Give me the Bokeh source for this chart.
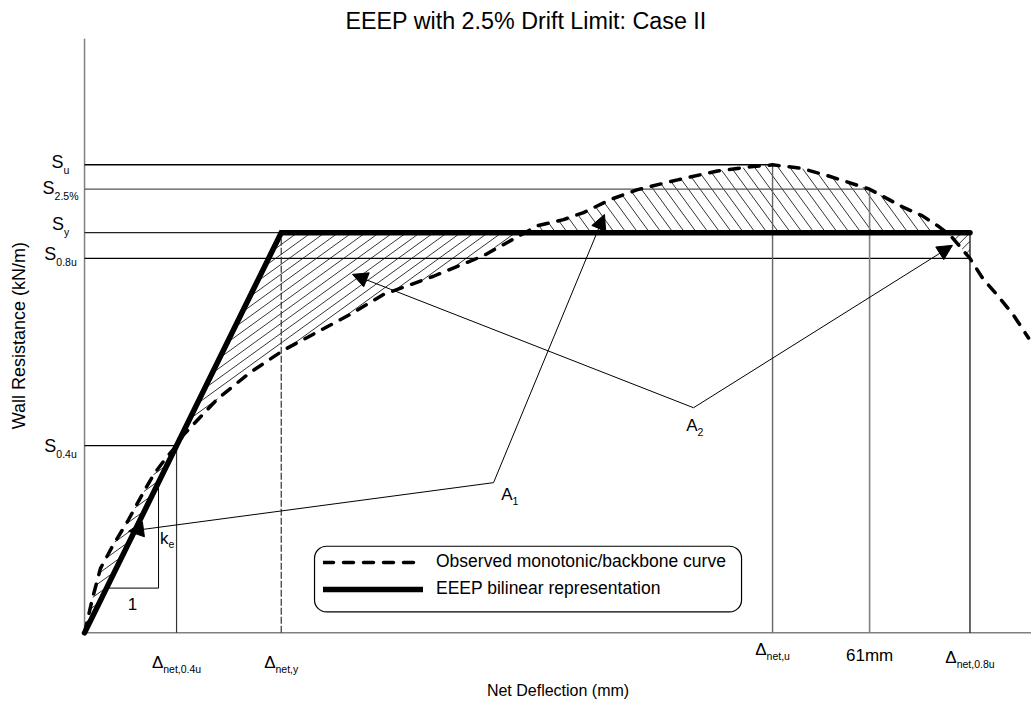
import math
import numpy as np
from bokeh.plotting import figure
from bokeh.models import Range1d, Arrow, NormalHead, BoxAnnotation, Legend, LegendItem, Label
from bokeh.embed import file_html
from bokeh.resources import INLINE

# Observed monotonic/backbone curve: net deflection (mm) vs wall resistance (kN/m)
curve_x = [0, 0.62, 1.24, 2.25, 3.34, 4.35, 5.36, 6.29, 7.15, 7.69, 10.33, 12.90,
           15.46, 18.10, 20.67, 23.23, 27.12, 31.00, 35.20, 37.22, 38.77, 40.87,
           42.97, 46.08, 49.18, 51.75, 53.46, 55.63, 57.73, 61.0, 63.64, 65.11,
           66.28, 67.29, 68.8, 69.85, 70.94, 72.18, 73.35]
curve_y = [0, 0.74, 1.38, 1.89, 2.38, 2.89, 3.38, 3.72, 4.00, 4.23, 5.00, 5.57,
           6.04, 6.43, 6.81, 7.23, 7.62, 8.06, 8.70, 8.83, 8.98, 9.26,
           9.47, 9.68, 9.87, 9.96, 10.00, 9.93, 9.77, 9.48, 9.09, 8.91,
           8.70, 8.49, 8.00, 7.55, 7.21, 6.79, 6.30]

# Characteristic resistances (kN/m)
S_u = 10.0
S_25 = 9.48
S_y = 8.55
S_08 = 8.0
S_04 = 4.0

# Characteristic deflections (mm)
d_04 = 7.15
d_u = 53.46
d_25 = 61.0
d_08 = 68.8

# EEEP bilinear: elastic stiffness through the 0.4 S_u point, plateau at S_y
k_e = S_04 / d_04
d_y = S_y / k_e

# Tick labels (main symbol + subscript)
x_ticks = [d_04, d_y, d_u, d_25, d_08]
x_main = ["\u0394", "\u0394", "\u0394", "61mm", "\u0394"]
x_sub = ["net,0.4u", "net,y", "net,u", "", "net,0.8u"]
y_ticks = [S_u, S_25, S_y, S_08, S_04]
y_main = ["S", "S", "S", "S", "S"]
y_sub = ["u", "2.5%", "y", "0.8u", "0.4u"]

TITLE = "EEEP with 2.5% Drift Limit: Case II"
X_LABEL = "Net Deflection (mm)"
Y_LABEL = "Wall Resistance (kN/m)"
LEGEND_LABELS = ["Observed monotonic/backbone curve", "EEEP bilinear representation"]

FONT = "Liberation Sans"
W, H, TOP = 1031, 711, 35
# Visible extent; the axes are drawn at deflection 0 and resistance 0
X_LO, X_HI = -6.53, 73.58
Y_LO, Y_HI = -1.68, 12.70
# Screen pixels per data unit, used to keep hatch angles/spacing in pixels
SX = W / (X_HI - X_LO)
SY = (H - TOP) / (Y_HI - Y_LO)

# Arial / Liberation Sans advance widths (1/1000 em) for label centring
ADV = {" ": 278, "%": 889, "(": 333, ")": 333, ",": 278, ".": 278, "/": 278,
       ":": 278, "A": 667, "S": 667, "\u0394": 668, "a": 556, "e": 556, "k": 500,
       "m": 833, "n": 556, "t": 278, "u": 556, "y": 500}


def text_w(s, size):
    return sum(ADV.get(c, 556) for c in s) * size / 1000.0


p = figure(width=W, height=H, x_range=Range1d(X_LO, X_HI), y_range=Range1d(Y_LO, Y_HI),
           output_backend="svg", toolbar_location=None, title=TITLE,
           x_axis_type=None, y_axis_type=None,
           min_border_left=0, min_border_right=0, min_border_top=TOP, min_border_bottom=0)
p.outline_line_color = None
p.grid.visible = False
p.background_fill_color = "white"
p.border_fill_color = "white"

p.title.text_font = FONT
p.title.text_font_size = "23.3px"
p.title.text_font_style = "normal"
p.title.text_color = "black"
p.title.align = "left"
p.title.offset = 345


def label(x, y, text, size, dx=0, dy=0, align="left", angle=0.0):
    p.add_layout(Label(x=x, y=y, x_offset=dx, y_offset=dy, text=text, angle=angle,
                       text_align=align, text_baseline="middle", text_font=FONT,
                       text_font_size=f"{size}px", text_color="black"))


def sub_text(x, y, main, sub, dx, dy, size=17, sub_size=10.5, sub_dy=-6):
    label(x, y, main, size, dx, dy, align="right")
    if sub:
        label(x, y, sub, sub_size, dx, dy + sub_dy, align="left")


def hatch(px, py, angle_deg, spacing):
    """Fill a polygon (data coords) with parallel lines at a screen angle/spacing."""
    th = math.radians(angle_deg)
    d = np.array([math.cos(th), math.sin(th)])
    n = np.array([-math.sin(th), math.cos(th)])
    U = np.column_stack([np.asarray(px, float) * SX, np.asarray(py, float) * SY])
    proj = U @ n
    xs, ys = [], []
    c = math.ceil(proj.min() / spacing) * spacing
    while c < proj.max():
        pts = []
        for i in range(len(U)):
            j = (i + 1) % len(U)
            a, b = proj[i] - c, proj[j] - c
            if a * b < 0:
                t = a / (a - b)
                pts.append(U[i] + t * (U[j] - U[i]))
        pts.sort(key=lambda q: float(q @ d))
        for k in range(0, len(pts) - 1, 2):
            xs.append([pts[k][0] / SX, pts[k + 1][0] / SX])
            ys.append([pts[k][1] / SY, pts[k + 1][1] / SY])
        c += spacing
    p.multi_line(xs, ys, line_color="black", line_width=0.8)


cx = np.array(curve_x)
cy = np.array(curve_y)


def level_crossings(level):
    out = []
    for i in range(len(cx) - 1):
        a, b = cy[i] - level, cy[i + 1] - level
        if a * b < 0:
            t = a / (a - b)
            out.append(cx[i] + t * (cx[i + 1] - cx[i]))
    return out


xc1, xc2 = level_crossings(S_y)

# Hatched areas between the backbone curve and the bilinear
m = cx <= d_04
hatch(list(cx[m]), list(cy[m]), 36, 8)

m = (cx > d_04) & (cx < xc1)
hatch([d_04, d_y, xc1] + list(cx[m][::-1]),
      [S_04, S_y, S_y] + list(cy[m][::-1]), 36, 8)

m = (cx > xc1) & (cx < xc2)
hatch([xc1] + list(cx[m]) + [xc2], [S_y] + list(cy[m]) + [S_y], 126, 9.5)

m = (cx > xc2) & (cx <= d_08)
hatch([xc2, d_08] + list(cx[m][::-1]), [S_y, S_y] + list(cy[m][::-1]), 45, 6)

# Axis lines
p.segment(x0=[0, 0], y0=[0, 0], x1=[X_HI, 0], y1=[0, Y_HI],
          line_color="#808080", line_width=1.5)

# Reference lines to the axes
p.segment(x0=[0] * 5, y0=y_ticks, x1=[d_u, d_25, d_y, d_08, d_04], y1=y_ticks,
          line_color=["black", "#555555", "#222222", "black", "black"],
          line_width=[1.5, 1.2, 1.2, 1.2, 1.2])
p.segment(x0=[d_04, d_u, d_25, d_08], y0=[0] * 4, x1=[d_04, d_u, d_25, d_08],
          y1=[S_04, S_u, S_25, S_y],
          line_color=["#333333", "#666666", "#808080", "black"],
          line_width=[1.2, 1.4, 1.6, 1.2])
p.segment(x0=[d_y], y0=[0], x1=[d_y], y1=[S_y], line_color="#333333",
          line_width=1.2, line_dash="7 2")

# Elastic stiffness triangle
tri_x1, tri_x2 = 1.71, 5.75
p.line([tri_x1, tri_x2, tri_x2], [k_e * tri_x1, k_e * tri_x1, k_e * tri_x2],
       line_color="black", line_width=1)

curve_r = p.line(curve_x, curve_y, line_color="black", line_width=3.5,
                 line_dash="10 10", line_cap="round")
bilin_r = p.line([0, d_y, d_08], [0, S_y, S_y], line_color="black", line_width=5.5,
                 line_cap="round", line_join="miter")

# Axis titles
label(X_HI / 2, 0, X_LABEL, 16, dy=-58, align="center")
label(0, Y_HI / 2, Y_LABEL, 18, dx=-66, align="center", angle=math.pi / 2)

# Axis-side labels with subscripts
x_dy = [-30, -30, -17, -23, -25]
for xv, mn, sb, dy in zip(x_ticks, x_main, x_sub, x_dy):
    shift = (text_w(mn, 17) - text_w(sb, 10.5)) / 2
    sub_text(xv, 0, mn, sb, shift, dy, size=17, sub_dy=-6)

y_dy = [3, 1, 9, 4, 0]
for yv, mn, sb, dy in zip(y_ticks, y_main, y_sub, y_dy):
    shift = (text_w(mn, 18) - text_w(sb, 10.5)) / 2 - 24
    sub_text(0, yv, mn, sb, shift, dy, size=18, sub_dy=-8)

# Stiffness labels
sub_text(tri_x2, 2.02, "k", "e", 10, 0, sub_dy=-6)
label((tri_x1 + tri_x2) / 2, k_e * tri_x1, "1", 17, dy=-16, align="center")

# Area callouts
A1_vertex = (31.78, 3.21)
A1_tips = [(3.42, 2.17), (40.4, 8.94)]
A2_vertex = (47.32, 4.81)
A2_tips = [(20.82, 7.66), (67.44, 8.28)]
for vx, tips in ((A1_vertex, A1_tips), (A2_vertex, A2_tips)):
    for tx, ty in tips:
        p.add_layout(Arrow(x_start=vx[0], y_start=vx[1], x_end=tx, y_end=ty,
                           line_color="black", line_width=1,
                           end=NormalHead(size=15, fill_color="black", line_color="black")))
sub_text(A1_vertex[0], A1_vertex[1], "A", "1", 19, -12)
sub_text(A2_vertex[0], A2_vertex[1], "A", "2", 4, -18)

# Legend in a rounded frame
p.add_layout(BoxAnnotation(left=17.87, right=51.05, bottom=0.447, top=1.851,
                           fill_color="white", fill_alpha=1, line_color="black",
                           line_alpha=1, line_width=1.2, border_radius=12))
legend = Legend(items=[LegendItem(label=LEGEND_LABELS[0], renderers=[curve_r]),
                       LegendItem(label=LEGEND_LABELS[1], renderers=[bilin_r])],
                location=(323, 112), glyph_width=100, glyph_height=20, label_height=20,
                spacing=6, padding=0, label_standoff=13, margin=0,
                border_line_color=None, background_fill_alpha=0,
                label_text_font=FONT, label_text_font_size="17.5px", label_text_color="black")
p.add_layout(legend)

open("out.html", "w").write(file_html(p, INLINE))
